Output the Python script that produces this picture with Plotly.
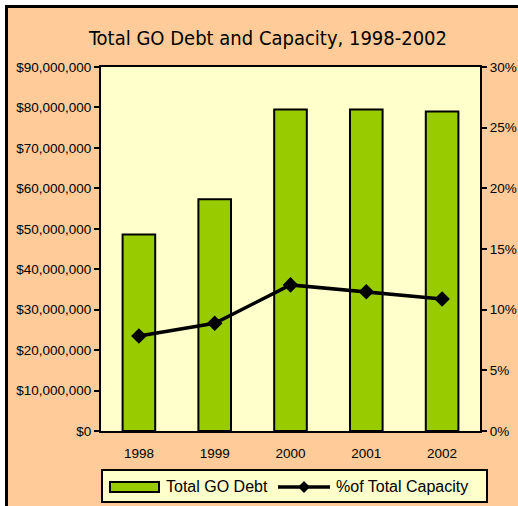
import plotly.graph_objects as go

years = ["1998", "1999", "2000", "2001", "2002"]
debt = [48600000, 57300000, 79500000, 79500000, 79000000]
pct_capacity = [0.0783, 0.0888, 0.1204, 0.1148, 0.1088]
debt_ticks = [0, 10e6, 20e6, 30e6, 40e6, 50e6, 60e6, 70e6, 80e6, 90e6]
pct_ticks = [0, 0.05, 0.10, 0.15, 0.20, 0.25, 0.30]
title_text = "Total GO Debt and Capacity, 1998-2002"
name_debt = "Total GO Debt"
name_pct = "%of Total Capacity"

debt_labels = [f"${v:,.0f}" for v in debt_ticks]
pct_labels = [f"{v*100:.0f}%" for v in pct_ticks]

ORANGE = "#FFCC99"
YELLOW = "#FFFFCC"
GREEN = "#99CC00"
W, H = 518, 506
L, R, T, B = 101, 38, 67, 75
PW, PH = W - L - R, H - T - B

def px(x):
    return (x - L) / PW

def py(y):
    return (H - B - y) / PH

xpos = list(range(len(years)))
bounds = [i - 0.5 for i in range(len(years) + 1)]

fig = go.Figure()
fig.add_trace(go.Bar(
    x=xpos, y=debt, name=name_debt, width=0.43,
    marker=dict(color=GREEN, line=dict(color="black", width=2)),
    showlegend=False,
))
fig.add_trace(go.Scatter(
    x=xpos, y=pct_capacity, name=name_pct, yaxis="y2", mode="lines+markers",
    line=dict(color="black", width=3.5),
    marker=dict(symbol="diamond", size=12, color="black"),
    showlegend=False,
))

tickfont = dict(family="Liberation Sans, Arial, sans-serif", size=13.5, color="black")
common_overlay = dict(showticklabels=False, showline=False, showgrid=False, zeroline=False,
                      automargin=False, tickcolor="black", tickwidth=2)

fig.update_layout(
    width=W, height=H,
    margin=dict(l=L, r=R, t=T, b=B, autoexpand=False),
    paper_bgcolor=ORANGE,
    plot_bgcolor=YELLOW,
    xaxis=dict(range=[-0.5, 4.5], tickvals=xpos, ticktext=years, ticks="",
               showline=True, linecolor="black", linewidth=2, mirror=True,
               showgrid=False, zeroline=False, tickfont=tickfont, automargin=False,
               ticklabelstandoff=9),
    xaxis2=dict(overlaying="x", side="bottom", range=[-0.5, 4.5], tickvals=bounds,
                ticks="outside", ticklen=4, **common_overlay),
    xaxis3=dict(overlaying="x", side="bottom", range=[-0.5, 4.5], tickvals=bounds,
                ticks="inside", ticklen=4, **common_overlay),
    yaxis=dict(range=[0, 90e6], tickvals=debt_ticks, ticktext=debt_labels,
               ticks="outside", ticklen=5, tickwidth=2, tickcolor="black",
               showline=True, linecolor="black", linewidth=2, automargin=False,
               showgrid=False, zeroline=False, tickfont=tickfont),
    yaxis3=dict(overlaying="y", side="left", range=[0, 90e6], tickvals=debt_ticks,
                ticks="inside", ticklen=5, **common_overlay),
    yaxis2=dict(overlaying="y", side="right", range=[0, 0.30], tickvals=pct_ticks,
                ticktext=pct_labels, ticks="outside", ticklen=5, tickwidth=2, tickcolor="black",
                showline=True, linecolor="black", linewidth=2, automargin=False,
                showgrid=False, zeroline=False, tickfont=tickfont),
    yaxis4=dict(overlaying="y", side="right", range=[0, 0.30], tickvals=pct_ticks,
                ticks="inside", ticklen=5, **common_overlay),
    showlegend=False,
)

shapes = [
    dict(type="rect", xref="paper", yref="paper", x0=px(-10), x1=px(W + 10), y0=py(5), y1=py(-10),
         fillcolor="white", line=dict(width=0)),
    dict(type="rect", xref="paper", yref="paper", x0=px(-10), x1=px(5), y0=py(H + 10), y1=py(-10),
         fillcolor="white", line=dict(width=0)),
    dict(type="rect", xref="paper", yref="paper", x0=px(6.5), x1=px(W + 10), y0=py(H + 10), y1=py(6.5),
         line=dict(color="black", width=3)),
    dict(type="rect", xref="paper", yref="paper", x0=px(102), x1=px(487), y0=py(502), y1=py(470),
         fillcolor=YELLOW, line=dict(color="black", width=2)),
    dict(type="rect", xref="paper", yref="paper", x0=px(110), x1=px(159), y0=py(492), y1=py(482),
         fillcolor=GREEN, line=dict(color="black", width=2)),
    dict(type="line", xref="paper", yref="paper", x0=px(278), x1=px(330), y0=py(487), y1=py(487),
         line=dict(color="black", width=3.5)),
    dict(type="path", xref="paper", yref="paper", xsizemode="pixel", ysizemode="pixel",
         xanchor=px(304), yanchor=py(487), path="M0,6 L6,0 L0,-6 L-6,0 Z",
         fillcolor="black", line=dict(color="black", width=0)),
]
fig.update_layout(shapes=shapes)

legfont = dict(family="Liberation Sans, Arial, sans-serif", size=16, color="black")
fig.add_annotation(xref="paper", yref="paper", x=px(164), y=py(487), text=name_debt,
                   showarrow=False, xanchor="left", yanchor="middle", font=legfont)
fig.add_annotation(xref="paper", yref="paper", x=px(334), y=py(487), text=name_pct,
                   showarrow=False, xanchor="left", yanchor="middle", font=legfont)
fig.add_annotation(xref="paper", yref="paper", x=px(267.5), y=py(38), text=title_text,
                   showarrow=False, xanchor="center", yanchor="middle",
                   font=dict(family="Liberation Sans Narrow, DejaVu Sans Condensed, Arial Narrow, sans-serif",
                             size=20, color="black"))

fig.write_html("out.html", post_script="document.body.style.margin='0';",
               config={"displayModeBar": False})
